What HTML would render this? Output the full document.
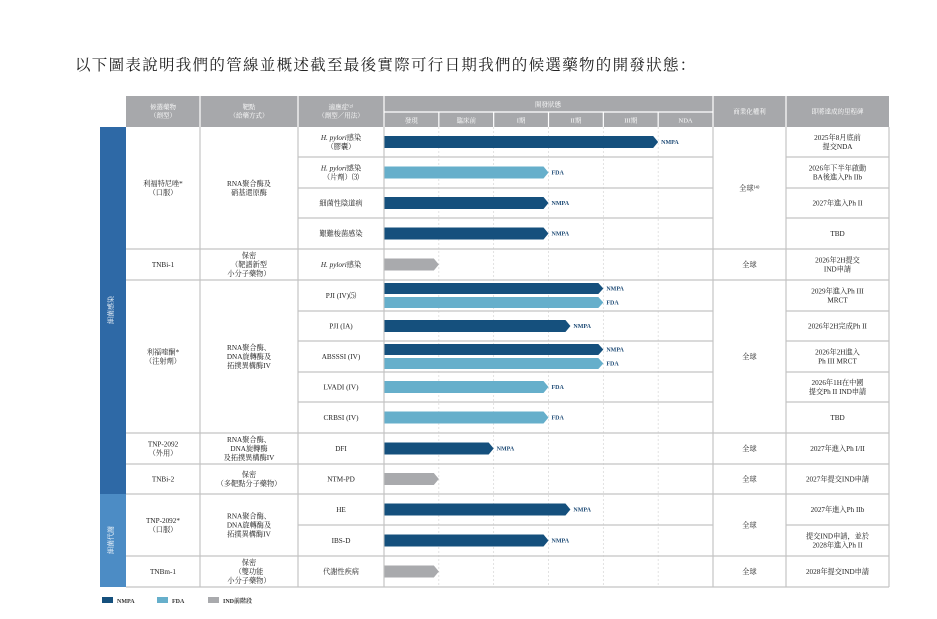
<!DOCTYPE html>
<html><head><meta charset="utf-8"><style>
body{margin:0;background:#fff;width:937px;height:619px;overflow:hidden}
svg{display:block;font-family:"Liberation Serif","Noto Serif CJK SC",serif}
</style></head><body>
<svg id="c" width="937" height="619" viewBox="0 0 937 619">
<text x="75" y="70" font-size="15.5" fill="#222" letter-spacing="1.3">以下圖表說明我們的管線並概述截至最後實際可行日期我們的候選藥物的開發狀態：</text>
</svg>
<script>
const phaseLabels=["發現","臨床前","I期","II期","III期","NDA"];
const indications=["H. pylori感染|（膠囊）","H. pylori感染|（片劑）⑶","細菌性陰道病","艱難梭菌感染","H. pylori感染","PJI (IV)⑸","PJI (IA)","ABSSSI (IV)","LVADI (IV)","CRBSI (IV)","DFI","NTM-PD","HE","IBS-D","代謝性疾病"];
const milestones=["2025年8月底前|提交NDA","2026年下半年啟動|BA後進入Ph IIb","2027年進入Ph II","TBD","2026年2H提交|IND申請","2029年進入Ph III|MRCT","2026年2H完成Ph II","2026年2H進入|Ph III MRCT","2026年1H在中國|提交Ph II IND申請","TBD","2027年進入Ph I/II","2027年提交IND申請","2027年進入Ph IIb","提交IND申請，並於|2028年進入Ph II","2028年提交IND申請"];
const drugNames=["利福特尼唑*|（口服）","TNBi-1","利福喹酮*|（注射劑）","TNP-2092|（外用）","TNBi-2","TNP-2092*|（口服）","TNBm-1"];
const drugTargets=["RNA聚合酶及|硝基還原酶","保密|（靶譜新型|小分子藥物）","RNA聚合酶、|DNA旋轉酶及|拓撲異構酶IV","RNA聚合酶、|DNA旋轉酶|及拓撲異構酶IV","保密|（多靶點分子藥物）","RNA聚合酶、|DNA旋轉酶及|拓撲異構酶IV","保密|（雙功能|小分子藥物）"];
const drugStart=[0,4,5,10,11,12,14];
const drugEnd=[3,4,9,10,11,13,14];
const rightsLabels=["全球⁽⁴⁾","全球","全球","全球","全球","全球","全球"];
// bars: indication row, phase reached (0-6 scale), regulator
const barRows=[0,1,2,3,4,5,5,6,7,7,8,9,10,11,12,13,14];
const barValues=[5.0,3.0,3.0,3.0,1.0,4.0,4.0,3.4,4.0,4.0,3.0,3.0,2.0,1.0,3.4,3.0,1.0];
const barTypes=["NMPA","FDA","NMPA","NMPA","IND","NMPA","FDA","NMPA","NMPA","FDA","FDA","FDA","NMPA","IND","NMPA","NMPA","IND"];
const legendItems=["NMPA","FDA","IND前階段"];

const NS="http://www.w3.org/2000/svg";const svg=document.getElementById('c');
function E(t,a,p){const e=document.createElementNS(NS,t);for(const k in a)e.setAttribute(k,a[k]);(p||svg).appendChild(e);return e;}
const rowTops=[127,157,188,218,249,280,311,341,372,402,433,464,494,525,556,587];
const cols=[126,200,298,384,713,786,889];
const X0=384,PW=(713-384)/6;
function px(v){return X0+v*PW;}
const colors={NMPA:"#15507d",FDA:"#66afcb",IND:"#a9aaad"};
function mtext(str,cx,cy,size,fill,name,weight){
  const lines=str.split("|");const lh=size*1.25;
  lines.forEach((l,i)=>{const t=E('text',{x:cx,y:cy-(lines.length-1)*lh/2+i*lh+size*0.35,'font-size':size,'text-anchor':'middle',fill:fill});
  
  
  if(weight)t.setAttribute('font-weight',weight);
  if(l.startsWith("H. pylori")){const a=E('tspan',{'font-style':'italic'},t);a.textContent="H. pylori";const b=E('tspan',{},t);b.textContent=l.slice(9);}else t.textContent=l;});
}
// header
let h=E('rect',{x:126,y:96,width:763,height:31,fill:"#a7a8ab"});


[200,298,384,713,786].forEach(x=>E('line',{x1:x,y1:96,x2:x,y2:127,stroke:"#fff","stroke-width":1.2}));
E('line',{x1:384,y1:112,x2:713,y2:112,stroke:"#fff","stroke-width":1.2});
for(let i=1;i<6;i++)E('line',{x1:px(i),y1:112,x2:px(i),y2:127,stroke:"#fff","stroke-width":1.2});
mtext("候選藥物|（劑型）",163,111,6.5,"#fff","header-candidate");
mtext("靶點|（給藥方式）",249,111,6.5,"#fff","header-target");
mtext("適應症⁽²⁾|（劑型／用法）",341,111,6.5,"#fff","header-indication");
mtext("開發狀態",548,104,6.5,"#fff","header-dev-status");
phaseLabels.forEach((p,i)=>mtext(p,px(i+0.5),120,6.5,"#fff","phase-header"));
mtext("商業化權利",749.5,111,6.5,"#fff","header-rights");
mtext("即將達成的里程碑",837.5,111,6.5,"#fff","header-milestones");
// sidebar
let s1=E('rect',{x:100,y:127,width:26,height:367,fill:"#2e69a6"});


let s2=E('rect',{x:100,y:494,width:26,height:93,fill:"#4c8cc5"});


let t1=E('text',{x:113,y:310,'font-size':7,fill:"#fff",'text-anchor':'middle',transform:"rotate(-90 113 310)"});t1.textContent="細菌感染";

let t2=E('text',{x:113,y:540,'font-size':7,fill:"#fff",'text-anchor':'middle',transform:"rotate(-90 113 540)"});t2.textContent="細菌代謝";

// phase dashed lines
for(let i=1;i<6;i++)E('line',{x1:px(i),y1:127,x2:px(i),y2:587,stroke:"#d6d6d6","stroke-width":0.7,"stroke-dasharray":"2,2"});
// grid lines
const gc="#c4c4c4";
indications.forEach((ind,i)=>{const y=rowTops[i+1];
 E('line',{x1:298,y1:y,x2:713,y2:y,stroke:gc,"stroke-width":1.2});
 E('line',{x1:786,y1:y,x2:889,y2:y,stroke:gc,"stroke-width":1.2});
 mtext(ind,341,(rowTops[i]+y)/2,7.2,"#222","indication-label");
 mtext(milestones[i],837.5,(rowTops[i]+y)/2,7.2,"#222","milestone-label");});
drugNames.forEach((d,i)=>{const y0=rowTops[drugStart[i]],y1=rowTops[drugEnd[i]+1];
 E('line',{x1:126,y1:y1,x2:298,y2:y1,stroke:gc,"stroke-width":1.2});
 E('line',{x1:713,y1:y1,x2:786,y2:y1,stroke:gc,"stroke-width":1.2});
 mtext(d,163,(y0+y1)/2,7.2,"#222","drug-name");
 mtext(drugTargets[i],249,(y0+y1)/2,7.2,"#222","drug-target");
 mtext(rightsLabels[i],749.5,(y0+y1)/2,7.2,"#222","commercial-rights");});
[200,298,384,713,786,889].forEach(x=>E('line',{x1:x,y1:127,x2:x,y2:587,stroke:gc,"stroke-width":1.2}));
// bars
barRows.forEach((r,i)=>{
 const cnt=barRows.filter(v=>v===r).length;const idx=barRows.slice(0,i).filter(v=>v===r).length;
 const yc=(rowTops[r]+rowTops[r+1])/2;let y,hh;
 if(cnt===1){hh=12;y=yc-6;}else{hh=11;y=idx===0?yc-12.5:yc+1.5;}
 const x1=px(barValues[i]);const xa=X0+0.5;
 const p=E('polygon',{points:`${xa},${y} ${x1-5},${y} ${x1},${y+hh/2} ${x1-5},${y+hh} ${xa},${y+hh}`,fill:colors[barTypes[i]]});
 
 
 if(barTypes[i]!=="IND"){const t=E('text',{x:x1+3,y:y+hh/2+2.2,'font-size':6,'font-weight':'bold',fill:"#1d4a75"});t.textContent=barTypes[i];
 
 }
});
// legend
const lx=[102,157,208];
legendItems.forEach((l,i)=>{const k=Object.keys(colors)[i];
 const r=E('rect',{x:lx[i],y:597,width:11,height:6,fill:colors[k]});
 
 
 const t=E('text',{x:lx[i]+15,y:603,'font-size':6,'font-weight':'bold',fill:"#333"});t.textContent=l;
 
 });
</script>
</body></html>
